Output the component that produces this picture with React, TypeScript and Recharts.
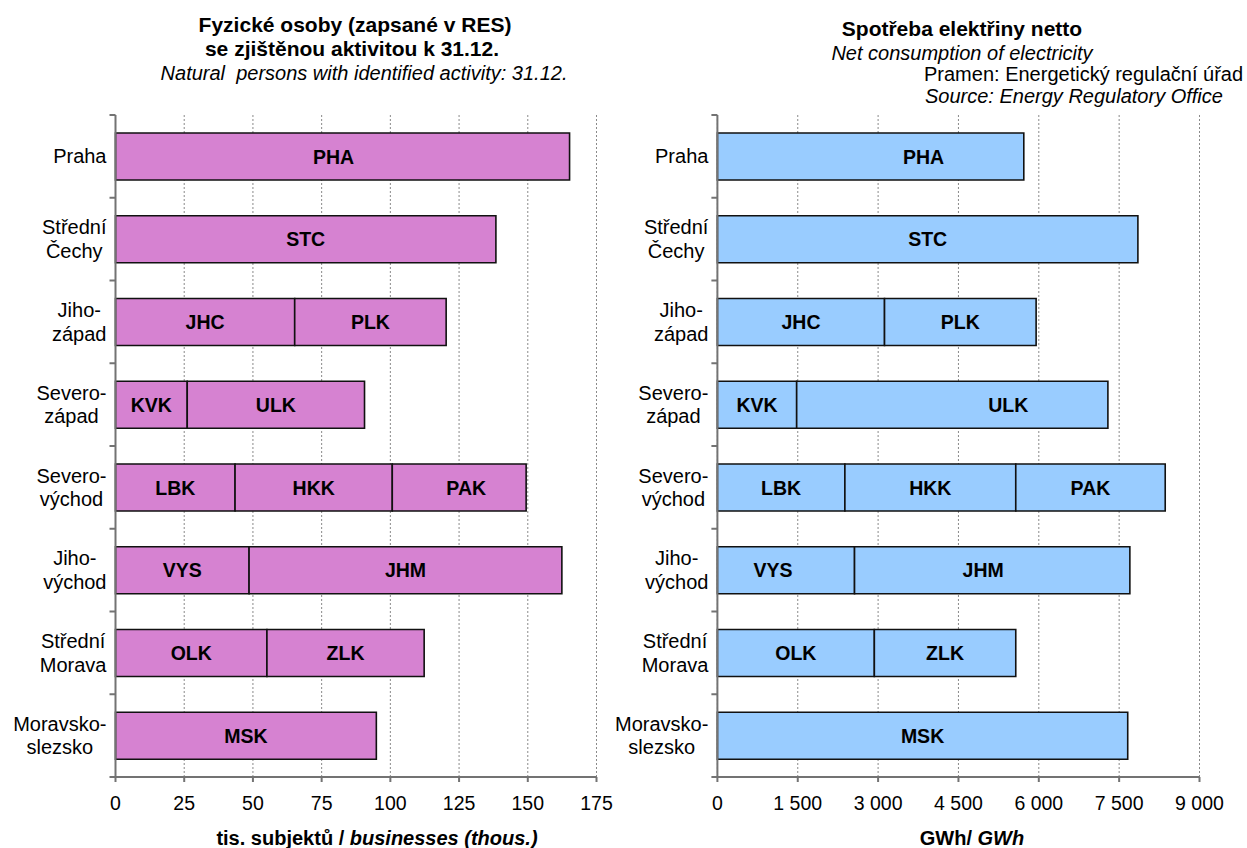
// Two horizontal stacked-bar panels: regions of the Czech Republic split into their kraje.
// Left: natural persons with identified activity, right: net electricity consumption.

import { Bar, BarChart, CartesianGrid, LabelList, XAxis, YAxis } from "recharts";

const FONT = "'Liberation Sans', Arial, sans-serif";

const regions = [
  "Praha",
  "Střední\nČechy",
  "Jiho-\nzápad",
  "Severo-\nzápad",
  "Severo-\nvýchod",
  "Jiho-\nvýchod",
  "Střední\nMorava",
  "Moravsko-\nslezsko",
];

const firstCodes = ["PHA", "STC", "JHC", "KVK", "LBK", "VYS", "OLK", "MSK"];
const secondCodes = [null, null, "PLK", "ULK", "HKK", "JHM", "ZLK", null];
const thirdCodes = [null, null, null, null, "PAK", null, null, null];

// tis. subjektů
const personsFirst = [165.2, 138.4, 65.2, 26.1, 43.5, 48.6, 55.1, 94.9];
const personsSecond = [null, null, 55.1, 64.5, 57.2, 113.8, 57.2, null];
const personsThird = [null, null, null, null, 48.7, null, null, null];
const personsTicks = [0, 25, 50, 75, 100, 125, 150, 175];

// GWh
const powerFirst = [5720, 7850, 3120, 1480, 2380, 2560, 2930, 7660];
const powerSecond = [null, null, 2830, 5810, 3190, 5140, 2640, null];
const powerThird = [null, null, null, null, 2790, null, null, null];
const powerTicks = [0, 1500, 3000, 4500, 6000, 7500, 9000];

const CHART_H = 848;
const PLOT_TOP = 115;
const X_AXIS_H = 60;
const PLOT_BOTTOM = 777;
const AXIS = "#737373";
const BORDER = "#9a9a9a";

let measureCtx: CanvasRenderingContext2D | null = null;
function textWidth(s: string, font: string) {
  if (!measureCtx) measureCtx = document.createElement("canvas").getContext("2d");
  if (!measureCtx) return s.length * 10;
  measureCtx.font = font;
  return measureCtx.measureText(s).width;
}

const spaced = (v: number) => String(v).replace(/\B(?=(\d{3})+(?!\d))/g, "\u00a0");

function RegionTick(props: any) {
  const { x, y, payload, index, visibleTicksCount } = props;
  const band = (PLOT_BOTTOM - PLOT_TOP) / regions.length;
  const lines = String(payload.value).split("\n");
  const widest = Math.max(...lines.map((l) => textWidth(l, `20px ${FONT}`)));
  const cx = x - 9 - widest / 2;
  const lineGap = 23.5;
  const first = y + 7 - ((lines.length - 1) * lineGap) / 2;
  return (
    <g>
      <line x1={x - 6} x2={x} y1={y - band / 2} y2={y - band / 2} stroke={AXIS} strokeWidth={2} />
      {index === visibleTicksCount - 1 && (
        <line x1={x - 6} x2={x} y1={y + band / 2} y2={y + band / 2} stroke={AXIS} strokeWidth={2} />
      )}
      <text textAnchor="middle" fontSize={20} fontFamily={FONT} fill="#000">
        {lines.map((l, i) => (
          <tspan key={i} x={cx} y={first + i * lineGap}>
            {l}
          </tspan>
        ))}
      </text>
    </g>
  );
}

function codeLabel(nudge: Record<string, number>) {
  return (p: any) => {
    if (!p.value) return null;
    const vb = p.viewBox ?? p;
    return (
      <text
        x={vb.x + vb.width / 2 + (nudge[p.value] ?? 0)}
        y={vb.y + vb.height / 2 + 7}
        textAnchor="middle"
        fontWeight="bold"
        fontSize={19.5}
        fontFamily={FONT}
        fill="#000"
      >
        {p.value}
      </text>
    );
  };
}

function RegionBars({
  first,
  second,
  third,
  ticks,
  fill,
  width,
  marginLeft,
  marginRight,
  yAxisWidth,
  tickFormatter,
  nudge,
}: {
  first: number[];
  second: (number | null)[];
  third: (number | null)[];
  ticks: number[];
  fill: string;
  width: number;
  marginLeft: number;
  marginRight: number;
  yAxisWidth: number;
  tickFormatter?: (v: number) => string;
  nudge: Record<string, number>;
}) {
  const data = regions.map((region, i) => ({
    region,
    v1: first[i],
    v2: second[i],
    v3: third[i],
    c1: firstCodes[i],
    c2: secondCodes[i],
    c3: thirdCodes[i],
  }));
  const max = ticks[ticks.length - 1];
  const label = codeLabel(nudge);
  const barProps = {
    stackId: "s",
    fill,
    stroke: "#111",
    strokeWidth: 1.6,
    barSize: 47,
    isAnimationActive: false,
  };

  return (
    <BarChart
      width={width}
      height={CHART_H}
      data={data}
      layout="vertical"
      margin={{ top: PLOT_TOP, right: marginRight, bottom: CHART_H - PLOT_BOTTOM - X_AXIS_H, left: marginLeft }}
      accessibilityLayer={false}
    >
      <CartesianGrid horizontal={false} stroke="#8a8a8a" strokeDasharray="2 2" />
      <XAxis
        type="number"
        domain={[0, max]}
        ticks={ticks}
        interval={0}
        height={X_AXIS_H}
        tickFormatter={tickFormatter}
        axisLine={{ stroke: AXIS, strokeWidth: 2 }}
        tickLine={{ stroke: AXIS, strokeWidth: 2 }}
        tickSize={5}
        tickMargin={14}
        tick={{ fontSize: 19.5, fill: "#000", fontFamily: FONT }}
      />
      <XAxis
        xAxisId="top"
        orientation="top"
        type="number"
        domain={[0, max]}
        height={0}
        tick={false}
        tickLine={false}
        axisLine={{ stroke: BORDER, strokeWidth: 1.5 }}
      />
      <YAxis
        type="category"
        dataKey="region"
        width={yAxisWidth}
        interval={0}
        tickSize={0}
        tickMargin={0}
        tickLine={false}
        axisLine={{ stroke: AXIS, strokeWidth: 2 }}
        tick={<RegionTick />}
      />
      <YAxis
        yAxisId="right"
        orientation="right"
        type="category"
        dataKey="region"
        width={0}
        tick={false}
        tickLine={false}
        axisLine={{ stroke: BORDER, strokeWidth: 1.5 }}
      />
      <Bar dataKey="v1" {...barProps}>
        <LabelList dataKey="c1" content={label} />
      </Bar>
      <Bar dataKey="v2" {...barProps}>
        <LabelList dataKey="c2" content={label} />
      </Bar>
      <Bar dataKey="v3" {...barProps}>
        <LabelList dataKey="c3" content={label} />
      </Bar>
    </BarChart>
  );
}

export default function App() {
  return (
    <div
      style={{
        position: "absolute",
        left: 0,
        top: 0,
        width: 1247,
        height: 848,
        background: "#fff",
        overflow: "hidden",
        fontFamily: FONT,
      }}
    >
      <div style={{ position: "absolute", left: 0, top: 0 }}>
        <RegionBars
          first={personsFirst}
          second={personsSecond}
          third={personsThird}
          ticks={personsTicks}
          fill="#D682D1"
          width={620}
          marginLeft={15.5}
          marginRight={23.5}
          yAxisWidth={100}
          nudge={{ PHA: -9, PAK: 7 }}
        />
      </div>
      <div style={{ position: "absolute", left: 600, top: 0 }}>
        <RegionBars
          first={powerFirst}
          second={powerSecond}
          third={powerThird}
          ticks={powerTicks}
          fill="#99CCFF"
          width={647}
          marginLeft={27.4}
          marginRight={47.5}
          yAxisWidth={90}
          tickFormatter={spaced}
          nudge={{ PHA: 53, ULK: 56, VYS: -13, JHM: -9 }}
        />
      </div>
      <svg
        width={1247}
        height={848}
        style={{ position: "absolute", left: 0, top: 0, pointerEvents: "none" }}
        fontFamily={FONT}
        fill="#000"
      >
        <text x={355} y={32} textAnchor="middle" fontSize={21} fontWeight="bold">
          Fyzické osoby (zapsané v RES)
        </text>
        <text x={352} y={56} textAnchor="middle" fontSize={21} fontWeight="bold">
          se zjištěnou aktivitou k 31.12.
        </text>
        <text x={364} y={80} textAnchor="middle" fontSize={20} fontStyle="italic" style={{ whiteSpace: "pre" }}>
          Natural  persons with identified activity: 31.12.
        </text>

        <text x={962} y={36} textAnchor="middle" fontSize={21} fontWeight="bold">
          Spotřeba elektřiny netto
        </text>
        <text x={962} y={60} textAnchor="middle" fontSize={20} fontStyle="italic">
          Net consumption of electricity
        </text>
        <text x={924} y={81} fontSize={20}>
          Pramen: Energetický regulační úřad
        </text>
        <text x={925} y={103} fontSize={20} fontStyle="italic">
          Source: Energy Regulatory Office
        </text>

        <text x={377} y={845} textAnchor="middle" fontSize={20} fontWeight="bold">
          tis. subjektů / <tspan fontStyle="italic">businesses (thous.)</tspan>
        </text>
        <text x={972} y={845} textAnchor="middle" fontSize={20} fontWeight="bold">
          GWh/ <tspan fontStyle="italic">GWh</tspan>
        </text>
      </svg>
    </div>
  );
}
